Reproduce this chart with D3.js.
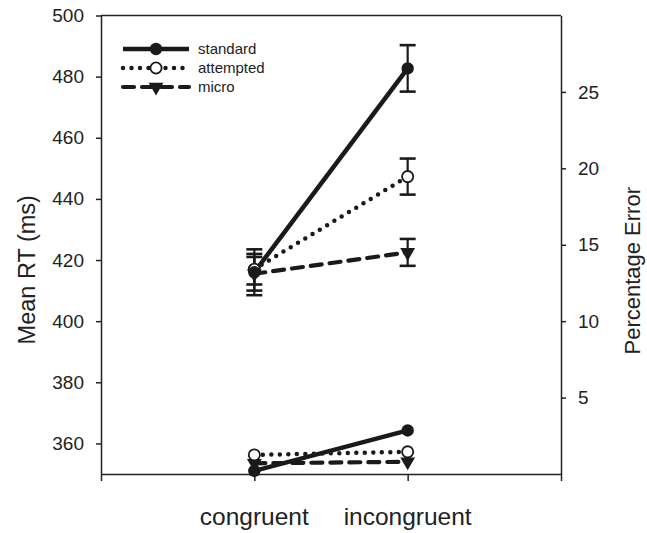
<!DOCTYPE html>
<html>
<head>
<meta charset="utf-8">
<script src="https://cdn.jsdelivr.net/npm/d3@7"></script>
<style>
  html, body { margin: 0; padding: 0; background: #fff; }
  svg { display: block; font-family: "Liberation Sans", Arial, sans-serif; }
</style>
</head>
<body>
<svg id="chart" width="647" height="533"></svg>
<script>
// Conditions on the x axis (placed at positions 1 and 2 of a 0..3 axis)
const conditions = ["congruent", "incongruent"];
const conditionPos = [1, 2];

// Mean reaction time (ms) and standard errors, per trial type
const rtStandard = [416, 482.7];
const rtStandardSE = [7.5, 7.6];
const rtAttempted = [417, 447.3];
const rtAttemptedSE = [5.0, 5.9];
const rtMicro = [415.5, 422.5];
const rtMicroSE = [5.5, 4.4];

// Percentage error, per trial type
const errStandard = [0.2, 2.85];
const errAttempted = [1.25, 1.45];
const errMicro = [0.7, 0.8];

// Axis ticks
const rtTicks = [360, 380, 400, 420, 440, 460, 480, 500];
const errTicks = [5, 10, 15, 20, 25];
const xTicks = [0, 1, 2, 3];

const seriesNames = ["standard", "attempted", "micro"];

const svg = d3.select("#chart");
const plotLeft = 101, plotRight = 561, plotTop = 15.5, plotBottom = 474;

const x = d3.scaleLinear().domain([0, 3]).range([plotLeft, plotRight]);
const yRT = d3.scaleLinear().domain([350, 500]).range([plotBottom, plotTop]);
const yErr = d3.scaleLinear().domain([0, 30]).range([plotBottom, plotTop]);

// line styles per series
const styles = {
  standard: { width: 4.5, dash: null, cap: "butt" },
  attempted: { width: 4.5, dash: "0 8.5", cap: "round" },
  micro: { width: 4.2, dash: "11 8", cap: "round" }
};

// frame: top border
svg.append("line")
  .attr("x1", plotLeft).attr("x2", plotRight).attr("y1", plotTop).attr("y2", plotTop)
  .attr("stroke", "#222").attr("stroke-width", 1.5);

// axes
const axisFont = 19;
const gx = svg.append("g").attr("transform", `translate(0,${plotBottom})`)
  .call(d3.axisBottom(x).tickValues(xTicks).tickFormat("").tickSize(7).tickSizeOuter(0));
const gl = svg.append("g").attr("transform", `translate(${plotLeft},0)`)
  .call(d3.axisLeft(yRT).tickValues(rtTicks).tickSize(5).tickPadding(12).tickSizeOuter(0));
const gr = svg.append("g").attr("transform", `translate(${plotRight},0)`)
  .call(d3.axisRight(yErr).tickValues(errTicks).tickSize(5).tickPadding(12).tickSizeOuter(0));

[gx, gl, gr].forEach(g => {
  g.select(".domain").attr("stroke", "#222").attr("stroke-width", 1.5);
  g.selectAll(".tick line").attr("stroke", "#222").attr("stroke-width", 1.5);
  g.selectAll(".tick text").attr("fill", "#222").style("font-size", axisFont + "px")
    .style("font-family", "Liberation Sans, Arial, sans-serif");
});

// category labels
svg.selectAll("text.cat").data(conditions).enter().append("text")
  .attr("class", "cat")
  .attr("x", (d, i) => x(conditionPos[i]))
  .attr("y", 525)
  .attr("text-anchor", "middle")
  .attr("fill", "#222")
  .style("font-size", "24.5px")
  .text(d => d);

// axis titles
svg.append("text")
  .attr("transform", `translate(35,${(plotTop + plotBottom) / 2 + 25}) rotate(-90)`)
  .attr("text-anchor", "middle").attr("fill", "#222")
  .style("font-size", "23.5px").text("Mean RT (ms)");
svg.append("text")
  .attr("transform", `translate(640,${(plotTop + plotBottom) / 2 + 26}) rotate(-90)`)
  .attr("text-anchor", "middle").attr("fill", "#222")
  .style("font-size", "22px").text("Percentage Error");

// data layers
const rtSeries = [
  { name: "standard", values: rtStandard, se: rtStandardSE },
  { name: "attempted", values: rtAttempted, se: rtAttemptedSE },
  { name: "micro", values: rtMicro, se: rtMicroSE }
];
const errSeries = [
  { name: "standard", values: errStandard },
  { name: "attempted", values: errAttempted },
  { name: "micro", values: errMicro }
];

const plot = svg.append("g");

// error bars on the RT series
rtSeries.forEach(s => {
  s.values.forEach((v, i) => {
    const cx = x(conditionPos[i]);
    const g = plot.append("g").attr("stroke", "#1a1a1a");
    g.append("line").attr("x1", cx).attr("x2", cx)
      .attr("y1", yRT(v + s.se[i])).attr("y2", yRT(v - s.se[i])).attr("stroke-width", 2.2);
    [v + s.se[i], v - s.se[i]].forEach(e => {
      g.append("line").attr("x1", cx - 8).attr("x2", cx + 8)
        .attr("y1", yRT(e)).attr("y2", yRT(e)).attr("stroke-width", 2.6);
    });
  });
});

const lineGen = (yScale) => d3.line()
  .x((d, i) => x(conditionPos[i]))
  .y(d => yScale(d));

function drawLine(s, yScale) {
  const st = styles[s.name];
  plot.append("path")
    .datum(s.values)
    .attr("d", lineGen(yScale))
    .attr("fill", "none")
    .attr("stroke", "#1a1a1a")
    .attr("stroke-width", st.width)
    .attr("stroke-linecap", st.cap)
    .attr("stroke-dasharray", st.dash);
}

const triangleDown = d3.symbol().type(d3.symbolTriangle).size(95);

function drawMarker(g, name, cx, cy) {
  if (name === "standard") {
    g.append("circle").attr("cx", cx).attr("cy", cy).attr("r", 6.2).attr("fill", "#1a1a1a");
  } else if (name === "attempted") {
    g.append("circle").attr("cx", cx).attr("cy", cy).attr("r", 5.6)
      .attr("fill", "#fff").attr("stroke", "#1a1a1a").attr("stroke-width", 1.8);
  } else {
    g.append("path").attr("d", triangleDown)
      .attr("transform", `translate(${cx},${cy}) rotate(180)`)
      .attr("fill", "#1a1a1a");
  }
}

// micro first so the standard marker ends up on top where they overlap
const order = ["micro", "attempted", "standard"];
order.forEach(n => drawLine(errSeries.find(s => s.name === n), yErr));
order.forEach(n => drawLine(rtSeries.find(s => s.name === n), yRT));
order.forEach(n => {
  const se = errSeries.find(s => s.name === n);
  se.values.forEach((v, i) => drawMarker(plot, n, x(conditionPos[i]), yErr(v)));
  const sr = rtSeries.find(s => s.name === n);
  sr.values.forEach((v, i) => drawMarker(plot, n, x(conditionPos[i]), yRT(v)));
});

// legend
const legend = svg.append("g");
const legY = [49, 68, 87];
seriesNames.forEach((n, i) => {
  const st = styles[n];
  const y = legY[i];
  legend.append("line")
    .attr("x1", 123).attr("x2", 189).attr("y1", y).attr("y2", y)
    .attr("stroke", "#1a1a1a").attr("stroke-width", st.width)
    .attr("stroke-linecap", st.cap).attr("stroke-dasharray", st.dash);
  drawMarker(legend, n, 156, y);
  legend.append("text")
    .attr("x", 198).attr("y", y + 5)
    .attr("fill", "#222")
    .style("font-size", "15px")
    .text(n);
});
</script>
</body>
</html>
